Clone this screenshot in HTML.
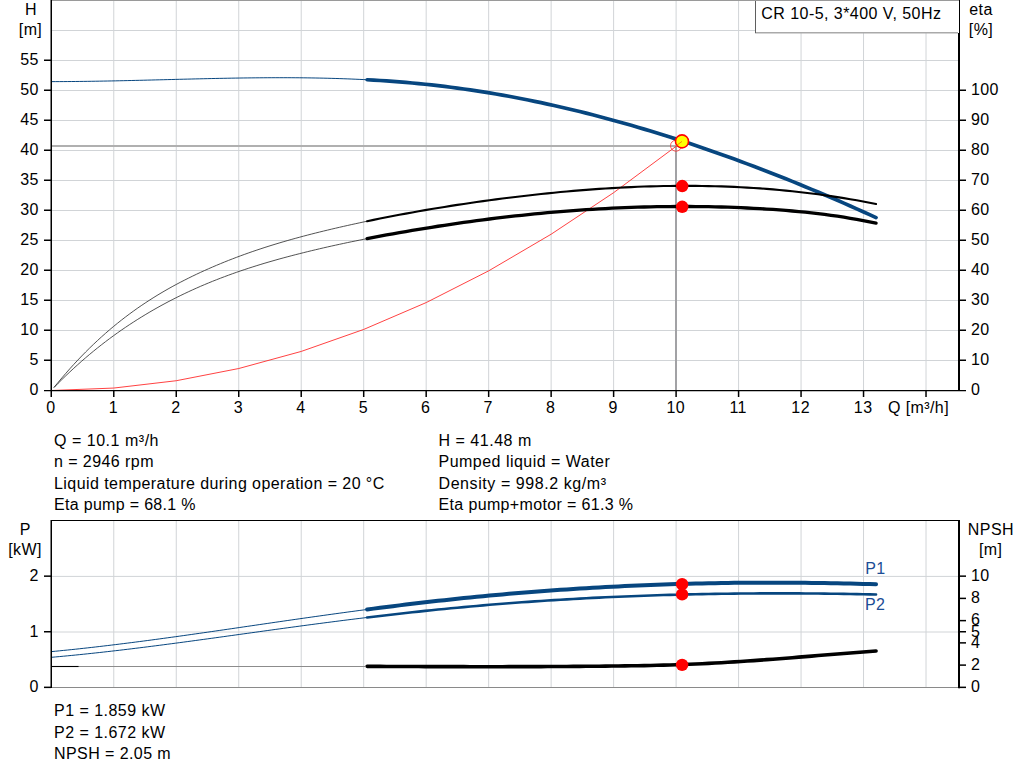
<!DOCTYPE html>
<html><head><meta charset="utf-8"><style>
html,body{margin:0;padding:0;background:#fff;}
body{width:1024px;height:781px;overflow:hidden;}
svg{display:block;}
text{font-family:"Liberation Sans",sans-serif;font-size:16px;}
</style></head><body>
<svg width="1024" height="781" viewBox="0 0 1024 781">
<rect width="1024" height="781" fill="#fff"/>
<line x1="113.78" y1="0" x2="113.78" y2="390" stroke="#d1d4d7" stroke-width="1"/>
<line x1="176.26" y1="0" x2="176.26" y2="390" stroke="#d1d4d7" stroke-width="1"/>
<line x1="238.74" y1="0" x2="238.74" y2="390" stroke="#d1d4d7" stroke-width="1"/>
<line x1="301.22" y1="0" x2="301.22" y2="390" stroke="#d1d4d7" stroke-width="1"/>
<line x1="363.70" y1="0" x2="363.70" y2="390" stroke="#d1d4d7" stroke-width="1"/>
<line x1="426.18" y1="0" x2="426.18" y2="390" stroke="#d1d4d7" stroke-width="1"/>
<line x1="488.66" y1="0" x2="488.66" y2="390" stroke="#d1d4d7" stroke-width="1"/>
<line x1="551.14" y1="0" x2="551.14" y2="390" stroke="#d1d4d7" stroke-width="1"/>
<line x1="613.62" y1="0" x2="613.62" y2="390" stroke="#d1d4d7" stroke-width="1"/>
<line x1="676.10" y1="0" x2="676.10" y2="390" stroke="#d1d4d7" stroke-width="1"/>
<line x1="738.58" y1="0" x2="738.58" y2="390" stroke="#d1d4d7" stroke-width="1"/>
<line x1="801.06" y1="0" x2="801.06" y2="390" stroke="#d1d4d7" stroke-width="1"/>
<line x1="863.54" y1="0" x2="863.54" y2="390" stroke="#d1d4d7" stroke-width="1"/>
<line x1="926.02" y1="0" x2="926.02" y2="390" stroke="#d1d4d7" stroke-width="1"/>
<line x1="51" y1="360.50" x2="959" y2="360.50" stroke="#d1d4d7" stroke-width="1"/>
<line x1="51" y1="330.50" x2="959" y2="330.50" stroke="#d1d4d7" stroke-width="1"/>
<line x1="51" y1="300.50" x2="959" y2="300.50" stroke="#d1d4d7" stroke-width="1"/>
<line x1="51" y1="270.50" x2="959" y2="270.50" stroke="#d1d4d7" stroke-width="1"/>
<line x1="51" y1="240.50" x2="959" y2="240.50" stroke="#d1d4d7" stroke-width="1"/>
<line x1="51" y1="210.50" x2="959" y2="210.50" stroke="#d1d4d7" stroke-width="1"/>
<line x1="51" y1="180.50" x2="959" y2="180.50" stroke="#d1d4d7" stroke-width="1"/>
<line x1="51" y1="150.50" x2="959" y2="150.50" stroke="#d1d4d7" stroke-width="1"/>
<line x1="51" y1="120.50" x2="959" y2="120.50" stroke="#d1d4d7" stroke-width="1"/>
<line x1="51" y1="90.50" x2="959" y2="90.50" stroke="#d1d4d7" stroke-width="1"/>
<line x1="51" y1="60.50" x2="959" y2="60.50" stroke="#d1d4d7" stroke-width="1"/>
<line x1="51" y1="30.50" x2="959" y2="30.50" stroke="#d1d4d7" stroke-width="1"/>
<line x1="51" y1="0.5" x2="959" y2="0.5" stroke="#9a9a9a" stroke-width="1"/>
<line x1="51" y1="146" x2="675" y2="146" stroke="#b0b0b0" stroke-width="2"/>
<line x1="676" y1="145" x2="676" y2="390" stroke="#a2a2a5" stroke-width="2"/>
<path d="M51.30,81.62 L55.30,81.61 L59.30,81.60 L63.29,81.58 L67.29,81.56 L71.29,81.53 L75.29,81.49 L79.29,81.45 L83.28,81.40 L87.28,81.35 L91.28,81.29 L95.28,81.23 L99.28,81.16 L103.27,81.09 L107.27,81.02 L111.27,80.94 L115.27,80.86 L119.26,80.78 L123.26,80.69 L127.26,80.60 L131.26,80.51 L135.26,80.41 L139.25,80.32 L143.25,80.22 L147.25,80.12 L151.25,80.02 L155.25,79.92 L159.24,79.82 L163.24,79.72 L167.24,79.62 L171.24,79.52 L175.24,79.41 L179.23,79.31 L183.23,79.21 L187.23,79.12 L191.23,79.02 L195.23,78.92 L199.22,78.83 L203.22,78.74 L207.22,78.65 L211.22,78.56 L215.22,78.47 L219.21,78.39 L223.21,78.32 L227.21,78.24 L231.21,78.17 L235.20,78.10 L239.20,78.04 L243.20,77.98 L247.20,77.93 L251.20,77.88 L255.19,77.84 L259.19,77.80 L263.19,77.77 L267.19,77.74 L271.19,77.72 L275.18,77.71 L279.18,77.71 L283.18,77.71 L287.18,77.71 L291.18,77.73 L295.17,77.75 L299.17,77.78 L303.17,77.82 L307.17,77.87 L311.17,77.93 L315.16,77.99 L319.16,78.07 L323.16,78.15 L327.16,78.24 L331.16,78.35 L335.15,78.46 L339.15,78.58 L343.15,78.72 L347.15,78.86 L351.14,79.02 L355.14,79.19 L359.14,79.37 L363.14,79.56 L367.14,79.76" fill="none" stroke="#07467f" stroke-width="1"/>
<path d="M367.14,79.76 L373.58,80.11 L380.02,80.50 L386.46,80.92 L392.90,81.38 L399.35,81.87 L405.79,82.40 L412.23,82.97 L418.67,83.57 L425.11,84.22 L431.55,84.91 L438.00,85.64 L444.44,86.41 L450.88,87.22 L457.32,88.07 L463.76,88.96 L470.20,89.89 L476.65,90.86 L483.09,91.87 L489.53,92.92 L495.97,94.01 L502.41,95.13 L508.86,96.30 L515.30,97.50 L521.74,98.74 L528.18,100.02 L534.62,101.33 L541.06,102.68 L547.51,104.07 L553.95,105.50 L560.39,106.96 L566.83,108.45 L573.27,109.99 L579.71,111.56 L586.16,113.16 L592.60,114.80 L599.04,116.47 L605.48,118.17 L611.92,119.92 L618.37,121.69 L624.81,123.50 L631.25,125.34 L637.69,127.21 L644.13,129.12 L650.57,131.06 L657.02,133.03 L663.46,135.03 L669.90,137.07 L676.34,139.13 L682.78,141.23 L689.22,143.36 L695.67,145.52 L702.11,147.71 L708.55,149.93 L714.99,152.18 L721.43,154.45 L727.88,156.76 L734.32,159.10 L740.76,161.46 L747.20,163.86 L753.64,166.28 L760.08,168.73 L766.53,171.21 L772.97,173.71 L779.41,176.25 L785.85,178.81 L792.29,181.40 L798.73,184.02 L805.18,186.67 L811.62,189.34 L818.06,192.04 L824.50,194.77 L830.94,197.53 L837.39,200.31 L843.83,203.12 L850.27,205.96 L856.71,208.82 L863.15,211.71 L869.59,214.63 L876.04,217.58" fill="none" stroke="#07467f" stroke-width="3.7" stroke-linecap="round"/>
<path d="M53.99,387.48 L57.95,382.62 L61.91,377.88 L65.88,373.27 L69.84,368.77 L73.81,364.40 L77.77,360.14 L81.73,355.99 L85.70,351.95 L89.66,348.01 L93.63,344.19 L97.59,340.47 L101.55,336.84 L105.52,333.32 L109.48,329.89 L113.45,326.56 L117.41,323.32 L121.37,320.17 L125.34,317.10 L129.30,314.12 L133.27,311.22 L137.23,308.40 L141.19,305.66 L145.16,303.00 L149.12,300.41 L153.08,297.89 L157.05,295.43 L161.01,293.05 L164.98,290.72 L168.94,288.46 L172.90,286.26 L176.87,284.12 L180.83,282.03 L184.80,279.99 L188.76,278.00 L192.72,276.06 L196.69,274.17 L200.65,272.32 L204.62,270.51 L208.58,268.74 L212.54,267.01 L216.51,265.32 L220.47,263.66 L224.44,262.04 L228.40,260.46 L232.36,258.91 L236.33,257.40 L240.29,255.92 L244.25,254.47 L248.22,253.06 L252.18,251.67 L256.15,250.32 L260.11,248.99 L264.07,247.70 L268.04,246.43 L272.00,245.18 L275.97,243.97 L279.93,242.78 L283.89,241.61 L287.86,240.46 L291.82,239.34 L295.79,238.24 L299.75,237.16 L303.71,236.10 L307.68,235.06 L311.64,234.04 L315.61,233.03 L319.57,232.04 L323.53,231.07 L327.50,230.12 L331.46,229.17 L335.43,228.24 L339.39,227.32 L343.35,226.42 L347.32,225.52 L351.28,224.64 L355.24,223.77 L359.21,222.91 L363.17,222.06 L367.14,221.22" fill="none" stroke="#333" stroke-width="0.85"/>
<path d="M53.99,387.51 L57.95,383.48 L61.91,379.54 L65.88,375.69 L69.84,371.93 L73.81,368.25 L77.77,364.66 L81.73,361.14 L85.70,357.71 L89.66,354.35 L93.63,351.07 L97.59,347.87 L101.55,344.74 L105.52,341.68 L109.48,338.70 L113.45,335.78 L117.41,332.93 L121.37,330.15 L125.34,327.44 L129.30,324.78 L133.27,322.19 L137.23,319.66 L141.19,317.19 L145.16,314.77 L149.12,312.41 L153.08,310.10 L157.05,307.85 L161.01,305.65 L164.98,303.50 L168.94,301.40 L172.90,299.35 L176.87,297.35 L180.83,295.39 L184.80,293.48 L188.76,291.62 L192.72,289.79 L196.69,288.02 L200.65,286.28 L204.62,284.59 L208.58,282.93 L212.54,281.31 L216.51,279.74 L220.47,278.20 L224.44,276.69 L228.40,275.22 L232.36,273.78 L236.33,272.38 L240.29,271.01 L244.25,269.67 L248.22,268.36 L252.18,267.08 L256.15,265.83 L260.11,264.60 L264.07,263.40 L268.04,262.23 L272.00,261.08 L275.97,259.95 L279.93,258.84 L283.89,257.76 L287.86,256.69 L291.82,255.65 L295.79,254.62 L299.75,253.61 L303.71,252.61 L307.68,251.63 L311.64,250.67 L315.61,249.72 L319.57,248.79 L323.53,247.87 L327.50,246.96 L331.46,246.07 L335.43,245.19 L339.39,244.33 L343.35,243.48 L347.32,242.64 L351.28,241.81 L355.24,241.00 L359.21,240.19 L363.17,239.40 L367.14,238.62" fill="none" stroke="#333" stroke-width="0.85"/>
<path d="M51.30,390.50 L113.78,388.06 L176.26,380.73 L238.74,368.52 L301.22,351.43 L363.70,329.45 L426.18,302.59 L488.66,270.85 L551.14,234.22 L613.62,192.70 L676.10,146.31 L682.35,141.40" fill="none" stroke="#ff2020" stroke-width="0.85"/>
<path d="M367.14,238.62 L373.58,237.37 L380.02,236.15 L386.46,234.96 L392.90,233.79 L399.35,232.65 L405.79,231.53 L412.23,230.43 L418.67,229.35 L425.11,228.29 L431.55,227.26 L438.00,226.25 L444.44,225.26 L450.88,224.30 L457.32,223.36 L463.76,222.44 L470.20,221.55 L476.65,220.68 L483.09,219.83 L489.53,219.01 L495.97,218.21 L502.41,217.44 L508.86,216.69 L515.30,215.97 L521.74,215.27 L528.18,214.60 L534.62,213.95 L541.06,213.33 L547.51,212.73 L553.95,212.16 L560.39,211.61 L566.83,211.10 L573.27,210.60 L579.71,210.14 L586.16,209.70 L592.60,209.29 L599.04,208.91 L605.48,208.55 L611.92,208.22 L618.37,207.92 L624.81,207.65 L631.25,207.40 L637.69,207.18 L644.13,206.99 L650.57,206.83 L657.02,206.70 L663.46,206.60 L669.90,206.53 L676.34,206.48 L682.78,206.47 L689.22,206.48 L695.67,206.53 L702.11,206.60 L708.55,206.71 L714.99,206.84 L721.43,207.01 L727.88,207.21 L734.32,207.43 L740.76,207.69 L747.20,207.98 L753.64,208.30 L760.08,208.66 L766.53,209.05 L772.97,209.47 L779.41,209.94 L785.85,210.44 L792.29,210.99 L798.73,211.59 L805.18,212.23 L811.62,212.92 L818.06,213.67 L824.50,214.47 L830.94,215.33 L837.39,216.24 L843.83,217.22 L850.27,218.26 L856.71,219.36 L863.15,220.54 L869.59,221.78 L876.04,223.10" fill="none" stroke="#000" stroke-width="3.3" stroke-linecap="round"/>
<path d="M367.14,221.22 L373.58,219.88 L380.02,218.57 L386.46,217.28 L392.90,216.03 L399.35,214.80 L405.79,213.60 L412.23,212.42 L418.67,211.27 L425.11,210.15 L431.55,209.05 L438.00,207.98 L444.44,206.93 L450.88,205.91 L457.32,204.91 L463.76,203.93 L470.20,202.98 L476.65,202.06 L483.09,201.15 L489.53,200.27 L495.97,199.41 L502.41,198.57 L508.86,197.76 L515.30,196.96 L521.74,196.19 L528.18,195.44 L534.62,194.72 L541.06,194.02 L547.51,193.35 L553.95,192.70 L560.39,192.07 L566.83,191.48 L573.27,190.91 L579.71,190.36 L586.16,189.85 L592.60,189.36 L599.04,188.91 L605.48,188.48 L611.92,188.08 L618.37,187.72 L624.81,187.38 L631.25,187.08 L637.69,186.80 L644.13,186.56 L650.57,186.36 L657.02,186.19 L663.46,186.05 L669.90,185.94 L676.34,185.87 L682.78,185.84 L689.22,185.85 L695.67,185.89 L702.11,185.96 L708.55,186.08 L714.99,186.23 L721.43,186.42 L727.88,186.65 L734.32,186.92 L740.76,187.24 L747.20,187.59 L753.64,187.98 L760.08,188.42 L766.53,188.89 L772.97,189.42 L779.41,189.98 L785.85,190.59 L792.29,191.24 L798.73,191.94 L805.18,192.68 L811.62,193.47 L818.06,194.30 L824.50,195.19 L830.94,196.11 L837.39,197.09 L843.83,198.12 L850.27,199.19 L856.71,200.32 L863.15,201.49 L869.59,202.72 L876.04,204.00" fill="none" stroke="#000" stroke-width="2.1" stroke-linecap="round"/>
<line x1="51.25" y1="0" x2="51.25" y2="397" stroke="#000" stroke-width="1.5"/>
<line x1="959" y1="0" x2="959" y2="391" stroke="#000" stroke-width="2"/>
<line x1="44" y1="390.6" x2="966" y2="390.6" stroke="#000" stroke-width="1.3"/>
<line x1="44" y1="360.25" x2="51" y2="360.25" stroke="#000" stroke-width="1.5"/>
<line x1="44" y1="330.25" x2="51" y2="330.25" stroke="#000" stroke-width="1.5"/>
<line x1="44" y1="300.25" x2="51" y2="300.25" stroke="#000" stroke-width="1.5"/>
<line x1="44" y1="270.25" x2="51" y2="270.25" stroke="#000" stroke-width="1.5"/>
<line x1="44" y1="240.25" x2="51" y2="240.25" stroke="#000" stroke-width="1.5"/>
<line x1="44" y1="210.25" x2="51" y2="210.25" stroke="#000" stroke-width="1.5"/>
<line x1="44" y1="180.25" x2="51" y2="180.25" stroke="#000" stroke-width="1.5"/>
<line x1="44" y1="150.25" x2="51" y2="150.25" stroke="#000" stroke-width="1.5"/>
<line x1="44" y1="120.25" x2="51" y2="120.25" stroke="#000" stroke-width="1.5"/>
<line x1="44" y1="90.25" x2="51" y2="90.25" stroke="#000" stroke-width="1.5"/>
<line x1="44" y1="60.25" x2="51" y2="60.25" stroke="#000" stroke-width="1.5"/>
<line x1="959" y1="360.25" x2="966" y2="360.25" stroke="#000" stroke-width="1.5"/>
<line x1="959" y1="330.25" x2="966" y2="330.25" stroke="#000" stroke-width="1.5"/>
<line x1="959" y1="300.25" x2="966" y2="300.25" stroke="#000" stroke-width="1.5"/>
<line x1="959" y1="270.25" x2="966" y2="270.25" stroke="#000" stroke-width="1.5"/>
<line x1="959" y1="240.25" x2="966" y2="240.25" stroke="#000" stroke-width="1.5"/>
<line x1="959" y1="210.25" x2="966" y2="210.25" stroke="#000" stroke-width="1.5"/>
<line x1="959" y1="180.25" x2="966" y2="180.25" stroke="#000" stroke-width="1.5"/>
<line x1="959" y1="150.25" x2="966" y2="150.25" stroke="#000" stroke-width="1.5"/>
<line x1="959" y1="120.25" x2="966" y2="120.25" stroke="#000" stroke-width="1.5"/>
<line x1="959" y1="90.25" x2="966" y2="90.25" stroke="#000" stroke-width="1.5"/>
<line x1="113.78" y1="390" x2="113.78" y2="397" stroke="#000" stroke-width="1.5"/>
<line x1="176.26" y1="390" x2="176.26" y2="397" stroke="#000" stroke-width="1.5"/>
<line x1="238.74" y1="390" x2="238.74" y2="397" stroke="#000" stroke-width="1.5"/>
<line x1="301.22" y1="390" x2="301.22" y2="397" stroke="#000" stroke-width="1.5"/>
<line x1="363.70" y1="390" x2="363.70" y2="397" stroke="#000" stroke-width="1.5"/>
<line x1="426.18" y1="390" x2="426.18" y2="397" stroke="#000" stroke-width="1.5"/>
<line x1="488.66" y1="390" x2="488.66" y2="397" stroke="#000" stroke-width="1.5"/>
<line x1="551.14" y1="390" x2="551.14" y2="397" stroke="#000" stroke-width="1.5"/>
<line x1="613.62" y1="390" x2="613.62" y2="397" stroke="#000" stroke-width="1.5"/>
<line x1="676.10" y1="390" x2="676.10" y2="397" stroke="#000" stroke-width="1.5"/>
<line x1="738.58" y1="390" x2="738.58" y2="397" stroke="#000" stroke-width="1.5"/>
<line x1="801.06" y1="390" x2="801.06" y2="397" stroke="#000" stroke-width="1.5"/>
<line x1="863.54" y1="390" x2="863.54" y2="397" stroke="#000" stroke-width="1.5"/>
<line x1="926.02" y1="390" x2="926.02" y2="397" stroke="#000" stroke-width="1.5"/>
<circle cx="676" cy="145.7" r="5.5" fill="none" stroke="#ff3030" stroke-width="0.8"/>
<circle cx="682" cy="141.4" r="6.5" fill="#ffff00" stroke="#ff0000" stroke-width="1.6"/>
<line x1="676" y1="145.9" x2="682" y2="141.4" stroke="#ff6000" stroke-width="0.8"/>
<circle cx="682.2" cy="186.1" r="6.25" fill="#ff0000"/>
<circle cx="682.2" cy="206.8" r="6.25" fill="#ff0000"/>
<line x1="113.78" y1="521" x2="113.78" y2="687" stroke="#d1d4d7" stroke-width="1"/>
<line x1="176.26" y1="521" x2="176.26" y2="687" stroke="#d1d4d7" stroke-width="1"/>
<line x1="238.74" y1="521" x2="238.74" y2="687" stroke="#d1d4d7" stroke-width="1"/>
<line x1="301.22" y1="521" x2="301.22" y2="687" stroke="#d1d4d7" stroke-width="1"/>
<line x1="363.70" y1="521" x2="363.70" y2="687" stroke="#d1d4d7" stroke-width="1"/>
<line x1="426.18" y1="521" x2="426.18" y2="687" stroke="#d1d4d7" stroke-width="1"/>
<line x1="488.66" y1="521" x2="488.66" y2="687" stroke="#d1d4d7" stroke-width="1"/>
<line x1="551.14" y1="521" x2="551.14" y2="687" stroke="#d1d4d7" stroke-width="1"/>
<line x1="613.62" y1="521" x2="613.62" y2="687" stroke="#d1d4d7" stroke-width="1"/>
<line x1="676.10" y1="521" x2="676.10" y2="687" stroke="#d1d4d7" stroke-width="1"/>
<line x1="738.58" y1="521" x2="738.58" y2="687" stroke="#d1d4d7" stroke-width="1"/>
<line x1="801.06" y1="521" x2="801.06" y2="687" stroke="#d1d4d7" stroke-width="1"/>
<line x1="863.54" y1="521" x2="863.54" y2="687" stroke="#d1d4d7" stroke-width="1"/>
<line x1="926.02" y1="521" x2="926.02" y2="687" stroke="#d1d4d7" stroke-width="1"/>
<line x1="51" y1="632.00" x2="959" y2="632.00" stroke="#d1d4d7" stroke-width="1"/>
<line x1="51" y1="576.40" x2="959" y2="576.40" stroke="#d1d4d7" stroke-width="1"/>
<line x1="51" y1="520.5" x2="959" y2="520.5" stroke="#000" stroke-width="1"/>
<line x1="51" y1="687.5" x2="959" y2="687.5" stroke="#8a8a8a" stroke-width="1"/>
<line x1="78.7" y1="666.5" x2="365" y2="666.5" stroke="#8c8c8c" stroke-width="1"/>
<line x1="51" y1="666.5" x2="78.7" y2="666.5" stroke="#000" stroke-width="1.1"/>
<path d="M51.30,651.62 L55.30,651.24 L59.30,650.85 L63.29,650.45 L67.29,650.05 L71.29,649.64 L75.29,649.22 L79.29,648.79 L83.28,648.35 L87.28,647.91 L91.28,647.46 L95.28,647.01 L99.28,646.54 L103.27,646.07 L107.27,645.60 L111.27,645.12 L115.27,644.63 L119.26,644.14 L123.26,643.64 L127.26,643.14 L131.26,642.63 L135.26,642.12 L139.25,641.60 L143.25,641.08 L147.25,640.55 L151.25,640.02 L155.25,639.48 L159.24,638.94 L163.24,638.40 L167.24,637.85 L171.24,637.30 L175.24,636.75 L179.23,636.19 L183.23,635.63 L187.23,635.07 L191.23,634.50 L195.23,633.93 L199.22,633.36 L203.22,632.79 L207.22,632.22 L211.22,631.64 L215.22,631.06 L219.21,630.48 L223.21,629.90 L227.21,629.32 L231.21,628.74 L235.20,628.15 L239.20,627.57 L243.20,626.98 L247.20,626.40 L251.20,625.81 L255.19,625.23 L259.19,624.64 L263.19,624.06 L267.19,623.48 L271.19,622.89 L275.18,622.31 L279.18,621.73 L283.18,621.15 L287.18,620.57 L291.18,619.99 L295.17,619.41 L299.17,618.84 L303.17,618.27 L307.17,617.70 L311.17,617.13 L315.16,616.57 L319.16,616.00 L323.16,615.44 L327.16,614.89 L331.16,614.33 L335.15,613.78 L339.15,613.23 L343.15,612.69 L347.15,612.14 L351.14,611.60 L355.14,611.07 L359.14,610.53 L363.14,610.00 L367.14,609.48" fill="none" stroke="#07467f" stroke-width="1"/>
<path d="M51.30,657.32 L55.30,656.96 L59.30,656.60 L63.29,656.23 L67.29,655.85 L71.29,655.46 L75.29,655.07 L79.29,654.66 L83.28,654.25 L87.28,653.84 L91.28,653.41 L95.28,652.98 L99.28,652.55 L103.27,652.10 L107.27,651.65 L111.27,651.20 L115.27,650.73 L119.26,650.27 L123.26,649.79 L127.26,649.32 L131.26,648.83 L135.26,648.34 L139.25,647.85 L143.25,647.35 L147.25,646.85 L151.25,646.34 L155.25,645.83 L159.24,645.32 L163.24,644.80 L167.24,644.28 L171.24,643.75 L175.24,643.22 L179.23,642.69 L183.23,642.16 L187.23,641.62 L191.23,641.08 L195.23,640.54 L199.22,639.99 L203.22,639.45 L207.22,638.90 L211.22,638.35 L215.22,637.80 L219.21,637.24 L223.21,636.69 L227.21,636.14 L231.21,635.58 L235.20,635.03 L239.20,634.47 L243.20,633.91 L247.20,633.36 L251.20,632.80 L255.19,632.25 L259.19,631.69 L263.19,631.14 L267.19,630.58 L271.19,630.03 L275.18,629.48 L279.18,628.93 L283.18,628.38 L287.18,627.83 L291.18,627.29 L295.17,626.75 L299.17,626.21 L303.17,625.67 L307.17,625.14 L311.17,624.60 L315.16,624.07 L319.16,623.55 L323.16,623.02 L327.16,622.50 L331.16,621.99 L335.15,621.47 L339.15,620.96 L343.15,620.45 L347.15,619.95 L351.14,619.45 L355.14,618.95 L359.14,618.46 L363.14,617.97 L367.14,617.48" fill="none" stroke="#07467f" stroke-width="1"/>
<path d="M367.14,609.48 L373.58,608.64 L380.02,607.81 L386.46,606.99 L392.90,606.18 L399.35,605.38 L405.79,604.60 L412.23,603.82 L418.67,603.06 L425.11,602.31 L431.55,601.57 L438.00,600.85 L444.44,600.14 L450.88,599.45 L457.32,598.77 L463.76,598.10 L470.20,597.45 L476.65,596.81 L483.09,596.19 L489.53,595.58 L495.97,594.99 L502.41,594.41 L508.86,593.85 L515.30,593.29 L521.74,592.76 L528.18,592.24 L534.62,591.73 L541.06,591.24 L547.51,590.76 L553.95,590.29 L560.39,589.84 L566.83,589.40 L573.27,588.98 L579.71,588.57 L586.16,588.17 L592.60,587.79 L599.04,587.43 L605.48,587.07 L611.92,586.73 L618.37,586.41 L624.81,586.09 L631.25,585.79 L637.69,585.51 L644.13,585.24 L650.57,584.98 L657.02,584.74 L663.46,584.51 L669.90,584.29 L676.34,584.09 L682.78,583.90 L689.22,583.72 L695.67,583.56 L702.11,583.41 L708.55,583.27 L714.99,583.15 L721.43,583.04 L727.88,582.94 L734.32,582.86 L740.76,582.79 L747.20,582.73 L753.64,582.69 L760.08,582.66 L766.53,582.64 L772.97,582.64 L779.41,582.65 L785.85,582.67 L792.29,582.70 L798.73,582.75 L805.18,582.81 L811.62,582.88 L818.06,582.97 L824.50,583.07 L830.94,583.18 L837.39,583.30 L843.83,583.44 L850.27,583.59 L856.71,583.75 L863.15,583.93 L869.59,584.11 L876.04,584.31" fill="none" stroke="#07467f" stroke-width="4" stroke-linecap="round"/>
<path d="M367.14,617.48 L373.58,616.70 L380.02,615.94 L386.46,615.19 L392.90,614.44 L399.35,613.71 L405.79,612.99 L412.23,612.28 L418.67,611.59 L425.11,610.90 L431.55,610.23 L438.00,609.58 L444.44,608.93 L450.88,608.30 L457.32,607.69 L463.76,607.09 L470.20,606.50 L476.65,605.93 L483.09,605.37 L489.53,604.82 L495.97,604.29 L502.41,603.78 L508.86,603.27 L515.30,602.78 L521.74,602.30 L528.18,601.84 L534.62,601.39 L541.06,600.95 L547.51,600.53 L553.95,600.12 L560.39,599.72 L566.83,599.34 L573.27,598.96 L579.71,598.60 L586.16,598.26 L592.60,597.92 L599.04,597.60 L605.48,597.29 L611.92,597.00 L618.37,596.71 L624.81,596.44 L631.25,596.18 L637.69,595.93 L644.13,595.69 L650.57,595.47 L657.02,595.26 L663.46,595.06 L669.90,594.87 L676.34,594.69 L682.78,594.53 L689.22,594.37 L695.67,594.23 L702.11,594.10 L708.55,593.97 L714.99,593.86 L721.43,593.77 L727.88,593.68 L734.32,593.60 L740.76,593.54 L747.20,593.48 L753.64,593.44 L760.08,593.40 L766.53,593.38 L772.97,593.36 L779.41,593.36 L785.85,593.37 L792.29,593.39 L798.73,593.41 L805.18,593.45 L811.62,593.50 L818.06,593.56 L824.50,593.62 L830.94,593.70 L837.39,593.79 L843.83,593.88 L850.27,593.99 L856.71,594.10 L863.15,594.23 L869.59,594.36 L876.04,594.50" fill="none" stroke="#07467f" stroke-width="2.6" stroke-linecap="round"/>
<path d="M367.14,666.34 L373.58,666.37 L380.02,666.40 L386.46,666.43 L392.90,666.46 L399.35,666.48 L405.79,666.51 L412.23,666.53 L418.67,666.56 L425.11,666.58 L431.55,666.60 L438.00,666.62 L444.44,666.63 L450.88,666.65 L457.32,666.66 L463.76,666.67 L470.20,666.68 L476.65,666.68 L483.09,666.69 L489.53,666.69 L495.97,666.69 L502.41,666.68 L508.86,666.67 L515.30,666.66 L521.74,666.65 L528.18,666.63 L534.62,666.61 L541.06,666.58 L547.51,666.56 L553.95,666.52 L560.39,666.49 L566.83,666.45 L573.27,666.40 L579.71,666.36 L586.16,666.30 L592.60,666.25 L599.04,666.18 L605.48,666.12 L611.92,666.05 L618.37,665.97 L624.81,665.89 L631.25,665.80 L637.69,665.70 L644.13,665.58 L650.57,665.45 L657.02,665.31 L663.46,665.15 L669.90,664.97 L676.34,664.76 L682.78,664.54 L689.22,664.29 L695.67,664.01 L702.11,663.71 L708.55,663.39 L714.99,663.04 L721.43,662.68 L727.88,662.30 L734.32,661.90 L740.76,661.48 L747.20,661.05 L753.64,660.60 L760.08,660.14 L766.53,659.67 L772.97,659.19 L779.41,658.69 L785.85,658.19 L792.29,657.68 L798.73,657.16 L805.18,656.64 L811.62,656.11 L818.06,655.58 L824.50,655.05 L830.94,654.52 L837.39,653.99 L843.83,653.47 L850.27,652.96 L856.71,652.45 L863.15,651.95 L869.59,651.47 L876.04,651.00" fill="none" stroke="#000" stroke-width="3.6" stroke-linecap="round"/>
<line x1="51.25" y1="520" x2="51.25" y2="688" stroke="#000" stroke-width="1.5"/>
<line x1="959" y1="520" x2="959" y2="688.2" stroke="#000" stroke-width="2"/>
<line x1="44" y1="687.35" x2="51" y2="687.35" stroke="#000" stroke-width="1.5"/>
<line x1="44" y1="631.75" x2="51" y2="631.75" stroke="#000" stroke-width="1.5"/>
<line x1="44" y1="576.15" x2="51" y2="576.15" stroke="#000" stroke-width="1.5"/>
<line x1="959" y1="687.35" x2="966" y2="687.35" stroke="#000" stroke-width="1.5"/>
<line x1="959" y1="665.11" x2="966" y2="665.11" stroke="#000" stroke-width="1.5"/>
<line x1="959" y1="642.87" x2="966" y2="642.87" stroke="#000" stroke-width="1.5"/>
<line x1="959" y1="631.75" x2="966" y2="631.75" stroke="#000" stroke-width="1.5"/>
<line x1="959" y1="620.63" x2="966" y2="620.63" stroke="#000" stroke-width="1.5"/>
<line x1="959" y1="598.39" x2="966" y2="598.39" stroke="#000" stroke-width="1.5"/>
<line x1="959" y1="576.15" x2="966" y2="576.15" stroke="#000" stroke-width="1.5"/>
<circle cx="682.1" cy="584.2" r="6.2" fill="#ff0000"/>
<circle cx="682.1" cy="594.4" r="6.2" fill="#ff0000"/>
<circle cx="682.1" cy="664.9" r="6.2" fill="#ff0000"/>
<rect x="755" y="0" width="204" height="33" fill="#fff"/>
<line x1="755" y1="32.75" x2="958" y2="32.75" stroke="#aaaaaa" stroke-width="1.5"/>
<line x1="755.5" y1="0" x2="755.5" y2="33" stroke="#5f5f5f" stroke-width="1"/>
<line x1="755" y1="0.5" x2="959" y2="0.5" stroke="#9a9a9a" stroke-width="1"/>
<text x="38.9" y="395.0" text-anchor="end" fill="#000" style="letter-spacing:0.4px;font-size:16px">0</text>
<text x="38.9" y="365.0" text-anchor="end" fill="#000" style="letter-spacing:0.4px;font-size:16px">5</text>
<text x="38.9" y="335.0" text-anchor="end" fill="#000" style="letter-spacing:0.4px;font-size:16px">10</text>
<text x="38.9" y="305.0" text-anchor="end" fill="#000" style="letter-spacing:0.4px;font-size:16px">15</text>
<text x="38.9" y="275.0" text-anchor="end" fill="#000" style="letter-spacing:0.4px;font-size:16px">20</text>
<text x="38.9" y="245.0" text-anchor="end" fill="#000" style="letter-spacing:0.4px;font-size:16px">25</text>
<text x="38.9" y="215.0" text-anchor="end" fill="#000" style="letter-spacing:0.4px;font-size:16px">30</text>
<text x="38.9" y="185.0" text-anchor="end" fill="#000" style="letter-spacing:0.4px;font-size:16px">35</text>
<text x="38.9" y="155.0" text-anchor="end" fill="#000" style="letter-spacing:0.4px;font-size:16px">40</text>
<text x="38.9" y="125.0" text-anchor="end" fill="#000" style="letter-spacing:0.4px;font-size:16px">45</text>
<text x="38.9" y="95.0" text-anchor="end" fill="#000" style="letter-spacing:0.4px;font-size:16px">50</text>
<text x="38.9" y="65.0" text-anchor="end" fill="#000" style="letter-spacing:0.4px;font-size:16px">55</text>
<text x="971" y="395.0" text-anchor="start" fill="#000" style="letter-spacing:0.4px;font-size:16px">0</text>
<text x="971" y="365.0" text-anchor="start" fill="#000" style="letter-spacing:0.4px;font-size:16px">10</text>
<text x="971" y="335.0" text-anchor="start" fill="#000" style="letter-spacing:0.4px;font-size:16px">20</text>
<text x="971" y="305.0" text-anchor="start" fill="#000" style="letter-spacing:0.4px;font-size:16px">30</text>
<text x="971" y="275.0" text-anchor="start" fill="#000" style="letter-spacing:0.4px;font-size:16px">40</text>
<text x="971" y="245.0" text-anchor="start" fill="#000" style="letter-spacing:0.4px;font-size:16px">50</text>
<text x="971" y="215.0" text-anchor="start" fill="#000" style="letter-spacing:0.4px;font-size:16px">60</text>
<text x="971" y="185.0" text-anchor="start" fill="#000" style="letter-spacing:0.4px;font-size:16px">70</text>
<text x="971" y="155.0" text-anchor="start" fill="#000" style="letter-spacing:0.4px;font-size:16px">80</text>
<text x="971" y="125.0" text-anchor="start" fill="#000" style="letter-spacing:0.4px;font-size:16px">90</text>
<text x="971" y="95.0" text-anchor="start" fill="#000" style="letter-spacing:0.4px;font-size:16px">100</text>
<text x="50.9" y="413" text-anchor="middle" fill="#000" style="letter-spacing:0.4px;font-size:16px">0</text>
<text x="113.38" y="413" text-anchor="middle" fill="#000" style="letter-spacing:0.4px;font-size:16px">1</text>
<text x="175.85999999999999" y="413" text-anchor="middle" fill="#000" style="letter-spacing:0.4px;font-size:16px">2</text>
<text x="238.34" y="413" text-anchor="middle" fill="#000" style="letter-spacing:0.4px;font-size:16px">3</text>
<text x="300.82" y="413" text-anchor="middle" fill="#000" style="letter-spacing:0.4px;font-size:16px">4</text>
<text x="363.3" y="413" text-anchor="middle" fill="#000" style="letter-spacing:0.4px;font-size:16px">5</text>
<text x="425.78000000000003" y="413" text-anchor="middle" fill="#000" style="letter-spacing:0.4px;font-size:16px">6</text>
<text x="488.26" y="413" text-anchor="middle" fill="#000" style="letter-spacing:0.4px;font-size:16px">7</text>
<text x="550.74" y="413" text-anchor="middle" fill="#000" style="letter-spacing:0.4px;font-size:16px">8</text>
<text x="613.2199999999999" y="413" text-anchor="middle" fill="#000" style="letter-spacing:0.4px;font-size:16px">9</text>
<text x="675.6999999999999" y="413" text-anchor="middle" fill="#000" style="letter-spacing:0.4px;font-size:16px">10</text>
<text x="738.18" y="413" text-anchor="middle" fill="#000" style="letter-spacing:0.4px;font-size:16px">11</text>
<text x="800.66" y="413" text-anchor="middle" fill="#000" style="letter-spacing:0.4px;font-size:16px">12</text>
<text x="863.14" y="413" text-anchor="middle" fill="#000" style="letter-spacing:0.4px;font-size:16px">13</text>
<text x="888" y="413" text-anchor="start" fill="#000" style="letter-spacing:0.4px;font-size:16px">Q [m³/h]</text>
<text x="31.0" y="15" text-anchor="middle" fill="#000" style="letter-spacing:0.4px;font-size:16px">H</text>
<text x="30.5" y="35.2" text-anchor="middle" fill="#000" style="letter-spacing:0.4px;font-size:16px">[m]</text>
<text x="981" y="15" text-anchor="middle" fill="#000" style="letter-spacing:0.4px;font-size:16px">eta</text>
<text x="981" y="35" text-anchor="middle" fill="#000" style="letter-spacing:0.4px;font-size:16px">[%]</text>
<text x="761.3" y="19" text-anchor="start" fill="#000" style="letter-spacing:0.45px;font-size:16px">CR 10-5, 3*400 V, 50Hz</text>
<text x="54" y="446" text-anchor="start" fill="#000" style="letter-spacing:0.52px;font-size:16px">Q = 10.1 m³/h</text>
<text x="438.5" y="446" text-anchor="start" fill="#000" style="letter-spacing:0.52px;font-size:16px">H = 41.48 m</text>
<text x="54" y="466.6" text-anchor="start" fill="#000" style="letter-spacing:0.43px;font-size:16px">n = 2946 rpm</text>
<text x="438.5" y="466.6" text-anchor="start" fill="#000" style="letter-spacing:0.48px;font-size:16px">Pumped liquid = Water</text>
<text x="54" y="488.8" text-anchor="start" fill="#000" style="letter-spacing:0.436px;font-size:16px">Liquid temperature during operation = 20 °C</text>
<text x="438.5" y="488.8" text-anchor="start" fill="#000" style="letter-spacing:0.575px;font-size:16px">Density = 998.2 kg/m³</text>
<text x="54" y="510" text-anchor="start" fill="#000" style="letter-spacing:0.31px;font-size:16px">Eta pump = 68.1 %</text>
<text x="438.5" y="510" text-anchor="start" fill="#000" style="letter-spacing:0.355px;font-size:16px">Eta pump+motor = 61.3 %</text>
<text x="25.3" y="535" text-anchor="middle" fill="#000" style="letter-spacing:0.4px;font-size:16px">P</text>
<text x="25" y="555" text-anchor="middle" fill="#000" style="letter-spacing:0.4px;font-size:16px">[kW]</text>
<text x="38.9" y="692.1" text-anchor="end" fill="#000" style="letter-spacing:0.4px;font-size:16px">0</text>
<text x="38.9" y="636.5" text-anchor="end" fill="#000" style="letter-spacing:0.4px;font-size:16px">1</text>
<text x="38.9" y="580.9" text-anchor="end" fill="#000" style="letter-spacing:0.4px;font-size:16px">2</text>
<text x="990.9" y="535" text-anchor="middle" fill="#000" style="letter-spacing:0.4px;font-size:16px">NPSH</text>
<text x="990.7" y="555" text-anchor="middle" fill="#000" style="letter-spacing:0.4px;font-size:16px">[m]</text>
<text x="971" y="692.1" text-anchor="start" fill="#000" style="letter-spacing:0.4px;font-size:16px">0</text>
<text x="971" y="669.86" text-anchor="start" fill="#000" style="letter-spacing:0.4px;font-size:16px">2</text>
<text x="971" y="647.62" text-anchor="start" fill="#000" style="letter-spacing:0.4px;font-size:16px">4</text>
<text x="971" y="636.5" text-anchor="start" fill="#000" style="letter-spacing:0.4px;font-size:16px">5</text>
<text x="971" y="625.38" text-anchor="start" fill="#000" style="letter-spacing:0.4px;font-size:16px">6</text>
<text x="971" y="603.14" text-anchor="start" fill="#000" style="letter-spacing:0.4px;font-size:16px">8</text>
<text x="971" y="580.9" text-anchor="start" fill="#000" style="letter-spacing:0.4px;font-size:16px">10</text>
<text x="865.3" y="573.6" text-anchor="start" fill="#1c4d96" style="letter-spacing:0.4px;font-size:16px">P1</text>
<text x="865" y="610" text-anchor="start" fill="#1c4d96" style="letter-spacing:0.4px;font-size:16px">P2</text>
<text x="54" y="715.6" text-anchor="start" fill="#000" style="letter-spacing:0.475px;font-size:16px">P1 = 1.859 kW</text>
<text x="54" y="738" text-anchor="start" fill="#000" style="letter-spacing:0.475px;font-size:16px">P2 = 1.672 kW</text>
<text x="54" y="758.6" text-anchor="start" fill="#000" style="letter-spacing:0.425px;font-size:16px">NPSH = 2.05 m</text>
</svg>
</body></html>
